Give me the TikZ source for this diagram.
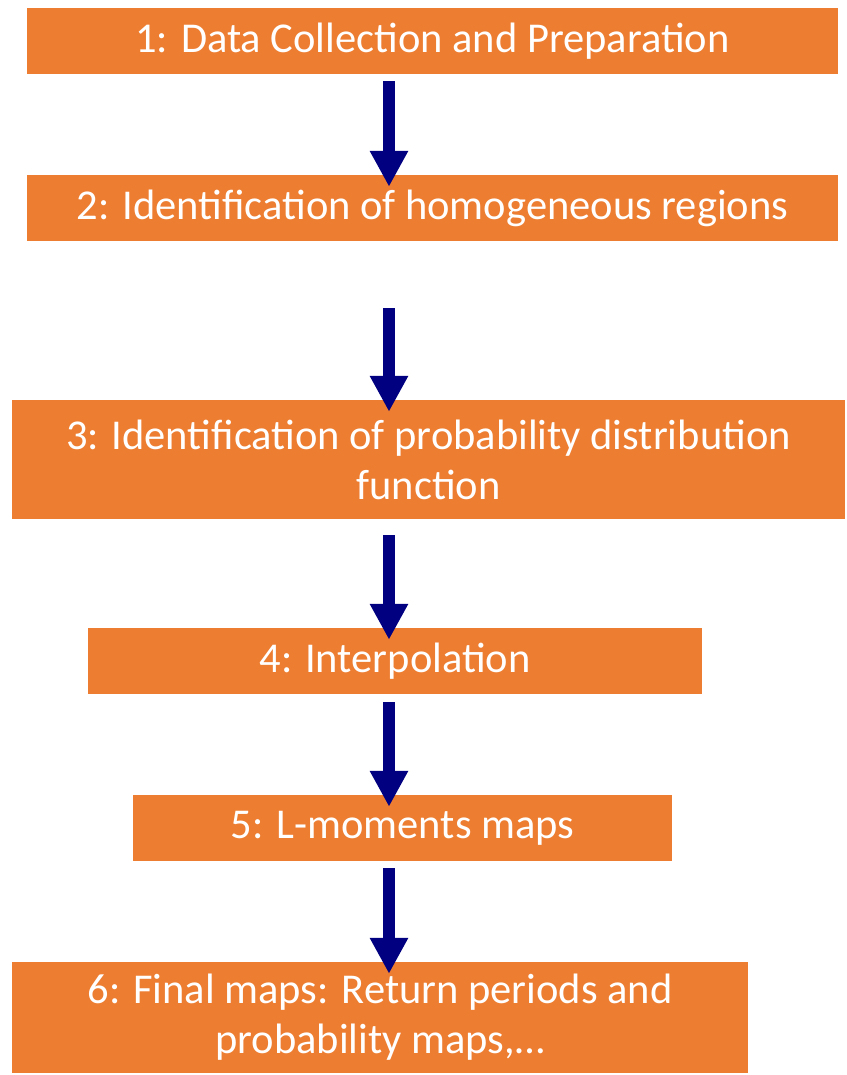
\documentclass[tikz,border=0pt]{standalone}
\usepackage{fontspec}
\setmainfont{Carlito}
\usepackage{xcolor}
\usetikzlibrary{arrows.meta,calc,positioning}
\definecolor{boxorange}{HTML}{ED7D31}
\definecolor{arrownavy}{HTML}{000080}

\begin{document}
\begin{tikzpicture}[x=1pt,y=-1pt,
    stage/.style={fill=boxorange,text=white,inner sep=0pt,align=center,
      font=\fontsize{42.5}{50}\selectfont},
    flow/.style={draw=arrownavy,line width=12pt,
      -{Triangle[width=36pt,length=36pt,fill=arrownavy]}}]
    \useasboundingbox (0,0) rectangle (846,1075);
    \node[stage,minimum width=811,minimum height=66] (b1) at (432.5,41)
      {1: Data Collection and Preparation};
    \node[stage,minimum width=811,minimum height=66] (b2) at (432.5,208)
      {2: Identification of homogeneous regions};
    \node[stage,minimum width=833,minimum height=119] (b3) at (428.5,459.5)
      {3: Identification of probability distribution\\function};
    \node[stage,minimum width=614,minimum height=66] (b4) at (395,661)
      {4: Interpolation};
    \node[stage,minimum width=539,minimum height=66] (b5) at (402.5,828)
      {5: L-moments maps};
    \node[stage,minimum width=736,minimum height=111] (b6) at (380,1017.5)
      {6: Final maps: Return periods and\\probability maps,\dots};
    \coordinate (ax) at (389,0);
    \foreach \a/\b/\g in {b1/b2/7,b2/b3/67,b3/b4/16,b4/b5/8,b5/b6/7}
      \draw[flow] ($(\a.south -| ax)+(0,\g)$) -- ($(\b.north -| ax)+(0,12)$);
  \end{tikzpicture}
\end{document}
